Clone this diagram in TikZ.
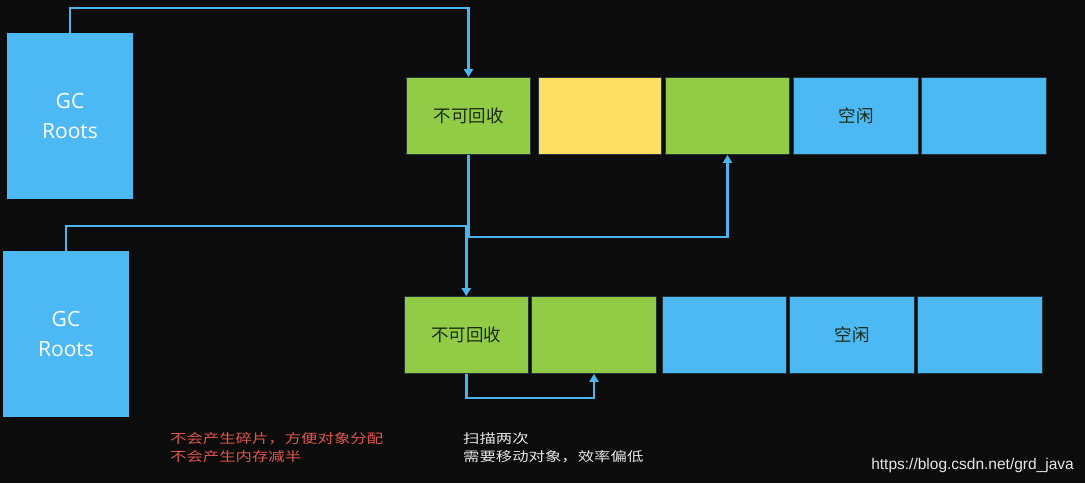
\documentclass[tikz,border=0pt]{standalone}
\usepackage{fontspec}
\usetikzlibrary{arrows.meta}
\newfontfamily\cjk{Noto Sans CJK SC}
\newfontfamily\gcfont{Open Sans}
\newfontfamily\urlfont{Liberation Sans}
\definecolor{bg}{HTML}{0C0C0C}
\definecolor{boxblue}{HTML}{4CB9F4}
\definecolor{cellgreen}{HTML}{92CC47}
\definecolor{cellyellow}{HTML}{FFDF63}
\definecolor{linkblue}{HTML}{4AB4EC}
\definecolor{celltext}{HTML}{1C2A12}
\definecolor{notered}{HTML}{E0554E}
\definecolor{notewhite}{HTML}{E6E6E6}
\definecolor{edge}{HTML}{22333A}
\tikzset{
  gcbox/.style={fill=boxblue, draw=none, minimum width=126pt, minimum height=166pt,
    text=white, font=\gcfont\fontsize{21}{30}\selectfont, align=center, inner sep=0pt},
  cell/.style={draw=edge, line width=0.8pt, minimum height=77pt, inner sep=0pt,
    text=celltext, font=\cjk\fontsize{17.5}{20}\selectfont},
  conn/.style={draw=linkblue, line width=2.8pt, -{Triangle[width=9pt,length=8pt]}},
  note/.style={font=\cjk\fontsize{13}{18}\selectfont, align=left, inner sep=0pt, anchor=west},
}
\begin{document}
\begin{tikzpicture}[x=1pt,y=-1pt]
\fill[bg] (0,0) rectangle (1085,483);
\useasboundingbox (0,0) rectangle (1085,483);
% GC roots
\node[gcbox] (g1) at (70,116) {GC\\Roots};
\node[gcbox] (g2) at (66,334) {GC\\Roots};
% top row
\node[cell, fill=cellgreen, minimum width=124pt] (t1) at (468.5,116) {不可回收};
\node[cell, fill=cellyellow, minimum width=123.5pt] (t2) at (599.75,116) {};
\node[cell, fill=cellgreen, minimum width=124pt] (t3) at (727.5,116) {};
\node[cell, fill=boxblue, minimum width=125pt] (t4) at (856,116) {空闲};
\node[cell, fill=boxblue, minimum width=125pt] (t5) at (984,116) {};
% bottom row
\node[cell, fill=cellgreen, minimum width=124.5pt] (b1) at (466.25,335) {不可回收};
\node[cell, fill=cellgreen, minimum width=125pt] (b2) at (594,335) {};
\node[cell, fill=boxblue, minimum width=124.5pt] (b3) at (724.25,335) {};
\node[cell, fill=boxblue, minimum width=125pt] (b4) at (852,335) {空闲};
\node[cell, fill=boxblue, minimum width=125pt] (b5) at (980,335) {};
% connectors
\draw[conn] (g1.north) -- (g1.north |- 0,8) -| (t1.north);
\draw[conn] (t1.south) -- (t1.south |- 0,237) -| (t3.south);
\draw[conn] (g2.north) -- (g2.north |- 0,226) -| (b1.north);
\draw[conn] (b1.south) -- (b1.south |- 0,398) -| (b2.south);
% notes
\node[note, text=notered] (n1) at (170,448)
  {\scalebox{1.26}[1]{不会产生碎片，方便对象分配}\\\scalebox{1.26}[1]{不会产生内存减半}};
\node[note, text=notewhite] (n2) at (463,448)
  {\scalebox{1.26}[1]{扫描两次}\\\scalebox{1.26}[1]{需要移动对象，效率偏低}};
\node[anchor=east, inner sep=0pt, text=notewhite, font=\urlfont\fontsize{15.5}{18}\selectfont] (wm) at (1074,465)
  {https://blog.csdn.net/grd\_java};
\end{tikzpicture}
\end{document}
